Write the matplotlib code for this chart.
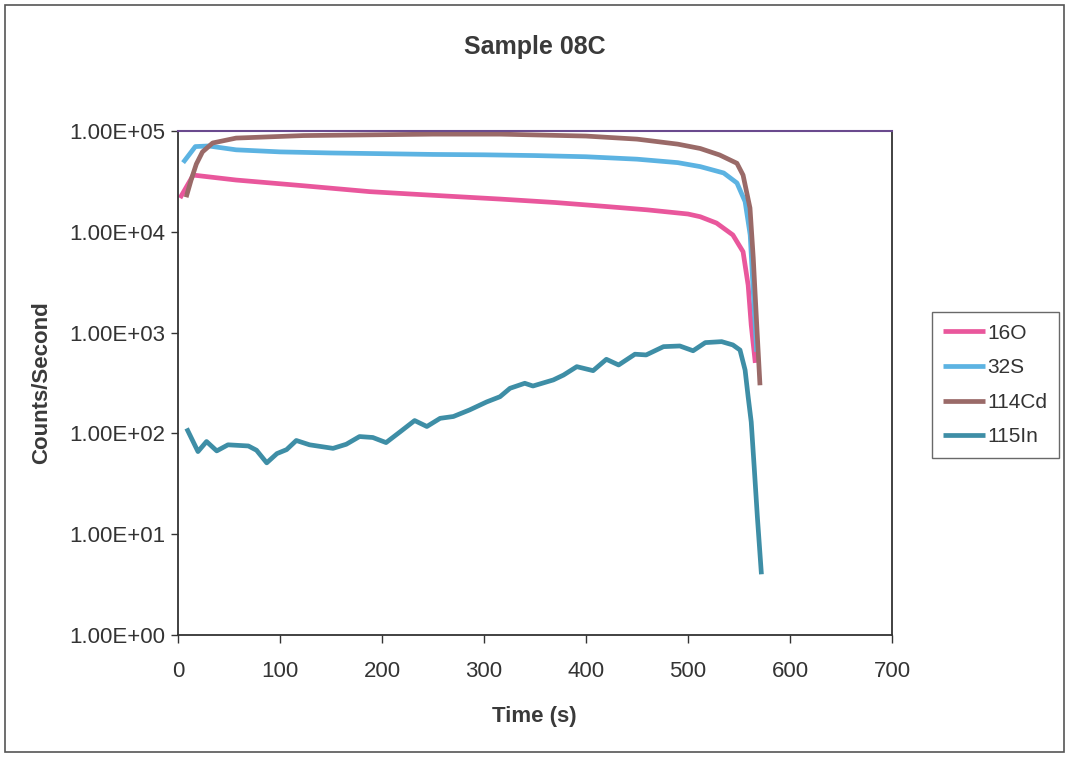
import numpy as np
import matplotlib.pyplot as plt
from matplotlib.ticker import FixedLocator, FuncFormatter
from matplotlib.patches import Rectangle

plt.rcParams['font.family'] = ['Liberation Sans', 'DejaVu Sans']

# 16O
t_o = [2, 15, 57, 123, 188, 250, 316, 370, 414, 460, 500, 512, 528, 544, 554, 559, 562, 566]
v_o = [21600, 36500, 32600, 28600, 25000, 23000, 21100, 19500, 18000, 16500, 15000,
       14100, 12200, 9300, 6340, 2950, 1190, 500]

# 32S
t_s = [5, 17, 30, 57, 100, 150, 200, 250, 300, 350, 400, 450, 490, 512, 535, 548, 556,
       561, 564, 567.4]
v_s = [48500, 70000, 71000, 65000, 62000, 60500, 59500, 58500, 58000, 57000, 55500,
       52500, 48500, 44300, 38300, 30500, 19900, 9300, 2560, 645]

# 114Cd
t_cd = [8, 13, 18, 24, 34, 57, 123, 188, 250, 316, 400, 450, 490, 512, 531, 548, 554,
        560.8, 564, 567.4, 570.6]
v_cd = [22000, 33000, 47000, 62000, 76000, 85000, 90000, 91500, 93000, 93000, 89000,
        83000, 74000, 67000, 57800, 47800, 36500, 17200, 5500, 1200, 300]

# 115In
t_in = [8.5, 19.6, 28, 38, 49, 69, 77, 87, 97, 106.5, 116, 129, 152, 165, 178, 191, 204,
        218, 232, 244, 257, 270, 286, 302.6, 315.7, 325.5, 340, 348, 368, 378, 391, 407,
        420, 432, 448, 459, 476, 492, 505, 517, 533, 544, 551, 556, 559, 562, 565, 568, 572]
v_in = [112, 66, 83, 67, 77, 75, 68, 51, 63, 69, 85, 77, 71, 78, 93, 91, 81, 104, 134,
        117, 141, 147, 171, 205, 231, 280, 314, 295, 339, 379, 459, 419, 543, 477, 610,
        600, 725, 736, 660, 795, 813, 754, 671, 425, 230, 130, 45, 15, 4]

series = [
    ('16O', t_o, v_o, '#e9579c'),
    ('32S', t_s, v_s, '#5cb3e2'),
    ('114Cd', t_cd, v_cd, '#9a6a68'),
    ('115In', t_in, v_in, '#3e8ea6'),
]

x_ticks = [0, 100, 200, 300, 400, 500, 600, 700]
y_ticks = [1, 10, 100, 1000, 10000, 100000]

fig = plt.figure(figsize=(10.69, 7.57), dpi=100)
ax = fig.add_axes([0.1665, 0.1612, 0.6679, 0.6658])

for name, t, v, c in series:
    ax.plot(t, v, color=c, lw=3.4, label=name, solid_capstyle='butt')

ax.set_yscale('log')
ax.set_xlim(0, 700)
ax.set_ylim(1, 100000)
ax.xaxis.set_major_locator(FixedLocator(x_ticks))
ax.yaxis.set_major_locator(FixedLocator(y_ticks))
ax.yaxis.set_minor_locator(FixedLocator([]))
ax.yaxis.set_major_formatter(FuncFormatter(lambda v, p: '%.2fE+%02d' % (1.0, np.log10(v))))

ax.tick_params(axis='x', direction='out', length=6, width=1, pad=13, labelsize=16,
               colors='#333333')
ax.tick_params(axis='y', direction='out', length=5, width=1, pad=4, labelsize=16,
               colors='#333333')

for side in ['left', 'bottom', 'right']:
    ax.spines[side].set_color('#333333')
    ax.spines[side].set_linewidth(1.3)
ax.spines['top'].set_color('#6a4a8e')
ax.spines['top'].set_linewidth(1.5)

fig.text(0.5, 0.938, 'Sample 08C', ha='center', va='center', fontsize=18,
         fontweight='bold', color='#3a3a3a')
fig.text(0.5, 0.053, 'Time (s)', ha='center', va='center', fontsize=16,
         fontweight='bold', color='#3a3a3a')
fig.text(0.039, 0.494, 'Counts/Second', ha='center', va='center', rotation=90,
         fontsize=16, fontweight='bold', color='#3a3a3a')

leg = fig.legend(loc='center left', bbox_to_anchor=(932 / 1069, 1 - 385 / 757),
                 fontsize=15, frameon=True, fancybox=False, handlelength=2.0,
                 handletextpad=0.1, labelspacing=0.75, borderpad=0.55,
                 borderaxespad=0)
leg.get_frame().set_edgecolor('#444444')
leg.get_frame().set_linewidth(1)
for txt in leg.get_texts():
    txt.set_color('#333333')

# outer chart border
fig.add_artist(Rectangle((5 / 1069, 5 / 757), 1 - 10 / 1069, 1 - 10 / 757,
                         transform=fig.transFigure, fill=False,
                         edgecolor='#555555', lw=1.2))

fig.savefig('out.png', dpi=100)
